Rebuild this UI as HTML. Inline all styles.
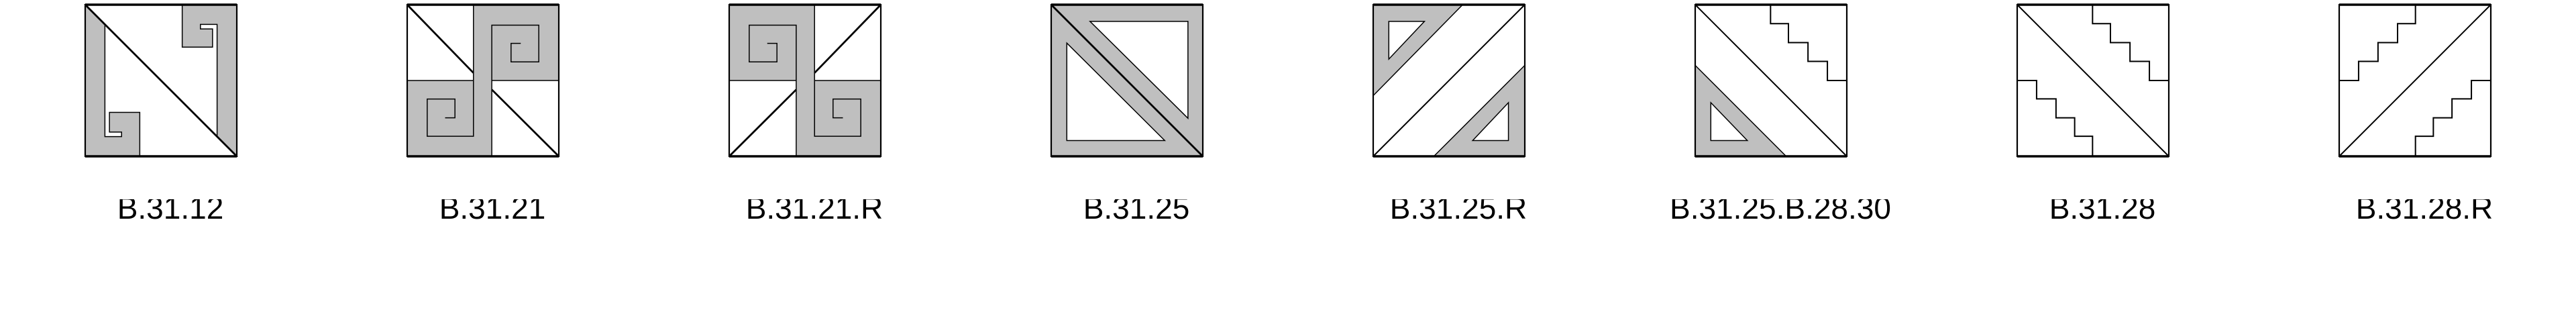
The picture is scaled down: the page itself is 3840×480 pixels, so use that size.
<!DOCTYPE html>
<html><head><meta charset="utf-8"><style>
html,body{margin:0;padding:0;background:#fff;}
body{width:3840px;height:480px;position:relative;overflow:hidden;font-family:"Liberation Sans",sans-serif;}
.tile{position:absolute;top:7px;width:226px;height:226px;}
.clip{position:absolute;top:297px;height:40px;overflow:hidden;width:400px;}
.lab{position:absolute;left:0;width:400px;top:-10px;text-align:center;font-size:46px;line-height:46px;color:#000;white-space:nowrap;}
svg *{vector-effect:non-scaling-stroke;}
</style></head><body>
<script>
const labels=["B.31.12","B.31.21","B.31.21.R","B.31.25","B.31.25.R","B.31.25.B.28.30","B.31.28","B.31.28.R"];
const G="#bfbfbf";
function pl(pts,fill,sw){return `<polygon points="${pts}" fill="${fill}" stroke="#000" stroke-width="${sw||1.5}" stroke-linejoin="miter"/>`;}
function ln(pts,sw){return `<polyline points="${pts}" fill="none" stroke="#000" stroke-width="${sw||1.5}"/>`;}
const stairsUR="49.7,0 49.7,12.5 61.5,12.5 61.5,25 74.4,25 74.4,37.4 87.2,37.4 87.2,50 100,50";
const stairsLL="0,50 12.8,50 12.8,62.1 25.6,62.1 25.6,74.6 37.9,74.6 37.9,86.8 49.7,86.8 49.7,100";
const shapes=[
 `<rect x="0" y="0" width="100" height="100" fill="${G}"/>`+
 pl("0,0 64,0 64,28 84,28 84,16 76,16 76,13 87,13 87,87",'#fff')+
 pl("13,13 100,100 36,100 36,71 16,71 16,84 24,84 24,87 13,87",'#fff')+
 ln("0,0 100,100",2.8),
 `<rect x="0" y="0" width="100" height="100" fill="${G}"/><rect x="0" y="0" width="43.7" height="50" fill="#fff"/><rect x="55.8" y="50" width="44.2" height="50" fill="#fff"/>`+
 ln("0,50 43.7,50")+ln("55.8,50 100,50")+
 ln("43.7,0 43.7,86.8 13.2,86.8 13.2,62.2 31.5,62.2 31.5,74.6 25,74.6")+
 ln("55.8,100 55.8,13.5 86.8,13.5 86.8,37.7 68.5,37.7 68.5,25.5 74.9,25.5")+
 ln("0,0 43.7,45",2.8)+ln("55.8,56 100,100",2.8),
 `<g transform="translate(100,0) scale(-1,1)"><rect x="0" y="0" width="100" height="100" fill="${G}"/><rect x="0" y="0" width="43.7" height="50" fill="#fff"/><rect x="55.8" y="50" width="44.2" height="50" fill="#fff"/>`+
 ln("0,50 43.7,50")+ln("55.8,50 100,50")+
 ln("43.7,0 43.7,86.8 13.2,86.8 13.2,62.2 31.5,62.2 31.5,74.6 25,74.6")+
 ln("55.8,100 55.8,13.5 86.8,13.5 86.8,37.7 68.5,37.7 68.5,25.5 74.9,25.5")+
 ln("0,0 43.7,45",2.8)+ln("55.8,56 100,100",2.8)+`</g>`,
 `<rect x="0" y="0" width="100" height="100" fill="${G}"/>`+
 pl("25.6,11 90.2,11 90.2,74.9",'#fff')+pl("10.3,25.3 10.3,89.6 74.9,89.6",'#fff')+ln("0,0 100,100",2.8),
 pl("0,0 59,0 0,60",G)+pl("10.3,11 33.8,11 10.3,35.9",'#fff')+
 pl("100,40 100,100 40,100",G)+pl("89.2,64.6 89.2,89.6 65.6,89.6",'#fff')+ln("0,100 100,0",2),
 pl("0,40 0,100 60,100",G)+pl("10.3,64.6 10.3,89.6 34.4,89.6",'#fff')+
 ln(stairsUR,2)+ln("0,0 100,100",2),
 ln(stairsUR,2)+ln(stairsLL,2)+ln("0,0 100,100",2),
 `<g transform="translate(100,0) scale(-1,1)">`+ln(stairsUR,2)+ln(stairsLL,2)+ln("0,0 100,100",2)+`</g>`
];
const names=["tile-b-31-12","tile-b-31-21","tile-b-31-21-r","tile-b-31-25","tile-b-31-25-r","tile-b-31-25-b-28-30","tile-b-31-28","tile-b-31-28-r"];
for(let i=0;i<8;i++){
 const left=127+480*i;
 const d=document.createElement('div');
 d.className='tile';d.style.left=left+'px';
 
 
 d.innerHTML=`<svg width="226" height="226" viewBox="0 0 100 100" preserveAspectRatio="none" style="overflow:visible">${shapes[i]}
 <rect x="0" y="0" width="100" height="100" fill="none" stroke="#000" stroke-width="2.2"/>
 <line x1="0" y1="0" x2="100" y2="0" stroke="#000" stroke-width="3.5"/>
 <line x1="0" y1="100" x2="100" y2="100" stroke="#000" stroke-width="3.5"/></svg>`;
 document.body.appendChild(d);
 const c=document.createElement('div');
 c.className='clip';c.style.left=(left+113+14-200)+'px';
 const t=document.createElement('div');
 t.className='lab';t.textContent=labels[i];
 
 
 c.appendChild(t);document.body.appendChild(c);
}
</script>
</body></html>
